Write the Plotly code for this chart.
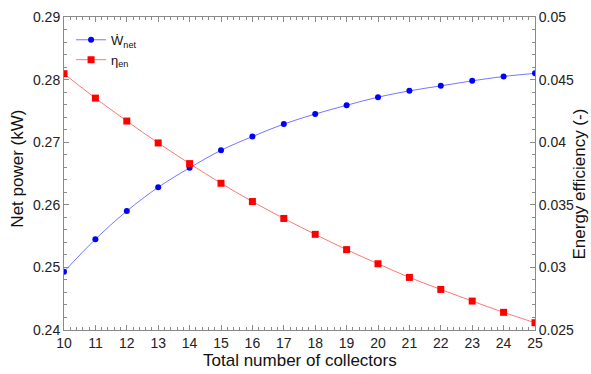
import plotly.graph_objects as go

# Number of collectors in the field
collectors = list(range(10, 26))

# Net power output (kW)
net_power = [0.2493, 0.2545, 0.2590, 0.2628, 0.2659, 0.2687, 0.2709, 0.2729,
             0.2745, 0.2759, 0.2772, 0.2782, 0.2790, 0.2798, 0.2805, 0.2810]

# Energy efficiency (-)
energy_eff = [0.04547, 0.04352, 0.04169, 0.03994, 0.03829, 0.03672, 0.03526, 0.03391,
              0.03264, 0.03142, 0.03029, 0.02920, 0.02824, 0.02731, 0.02641, 0.02558]

FONT = "Liberation Sans, Arial, sans-serif"
AXIS_GREY = "#8a8a8a"
TITLE_FONT = dict(family=FONT, size=17, color="#111111")

fig = go.Figure()

fig.add_trace(go.Scatter(
    x=collectors, y=net_power, name="Ẇ<sub>net</sub>",
    mode="lines+markers", line=dict(color="rgba(60,60,255,0.7)", width=1, shape="spline"),
    marker=dict(symbol="circle", size=6, color="#0000ff"),
    yaxis="y",
))

fig.add_trace(go.Scatter(
    x=collectors, y=energy_eff, name="η<sub>en</sub>",
    mode="lines+markers", line=dict(color="rgba(255,60,60,0.7)", width=1, shape="spline"),
    marker=dict(symbol="square", size=7, color="#ff0000"),
    yaxis="y2",
))

axis_common = dict(
    showline=True, linecolor=AXIS_GREY, linewidth=1,
    ticks="inside", tickcolor=AXIS_GREY, ticklen=5, tickwidth=1,
    showgrid=False, zeroline=False, automargin=False,
    tickfont=dict(family=FONT, size=14, color="#222222"),
)

fig.update_layout(
    width=591, height=374,
    margin=dict(l=64, r=56, t=17, b=44),
    paper_bgcolor="white", plot_bgcolor="white",
    font=dict(family=FONT, color="#222222"),
    showlegend=True,
    legend=dict(
        x=0.015, y=0.975, xanchor="left", yanchor="top",
        bgcolor="rgba(0,0,0,0)", borderwidth=0,
        font=dict(family=FONT, size=13, color="#111111"),
        itemwidth=30, tracegroupgap=0,
    ),
    xaxis=dict(
        range=[10, 25], dtick=1, tick0=10, mirror="ticks",
        minor=dict(dtick=0.2, ticks="inside", ticklen=3, tickcolor=AXIS_GREY),
        **axis_common,
    ),
    yaxis=dict(
        range=[0.24, 0.29], dtick=0.01, tick0=0.24,
        minor=dict(dtick=0.002, ticks="inside", ticklen=3, tickcolor=AXIS_GREY),
        **axis_common,
    ),
    yaxis2=dict(
        range=[0.025, 0.05], dtick=0.005, tick0=0.025,
        overlaying="y", side="right",
        minor=dict(dtick=0.001, ticks="inside", ticklen=3, tickcolor=AXIS_GREY),
        **axis_common,
    ),
    annotations=[
        dict(text="Total number of collectors", xref="paper", yref="paper",
             x=0.5, y=-0.099, xanchor="center", yanchor="middle",
             showarrow=False, font=TITLE_FONT),
        dict(text="Net power (kW)", xref="paper", yref="paper",
             x=-0.098, y=0.515, xanchor="center", yanchor="middle", textangle=-90,
             showarrow=False, font=TITLE_FONT),
        dict(text="Energy efficiency (-)", xref="paper", yref="paper",
             x=1.0955, y=0.468, xanchor="center", yanchor="middle", textangle=-90,
             showarrow=False, font=TITLE_FONT),
    ],
)

fig.write_html("out.html")
